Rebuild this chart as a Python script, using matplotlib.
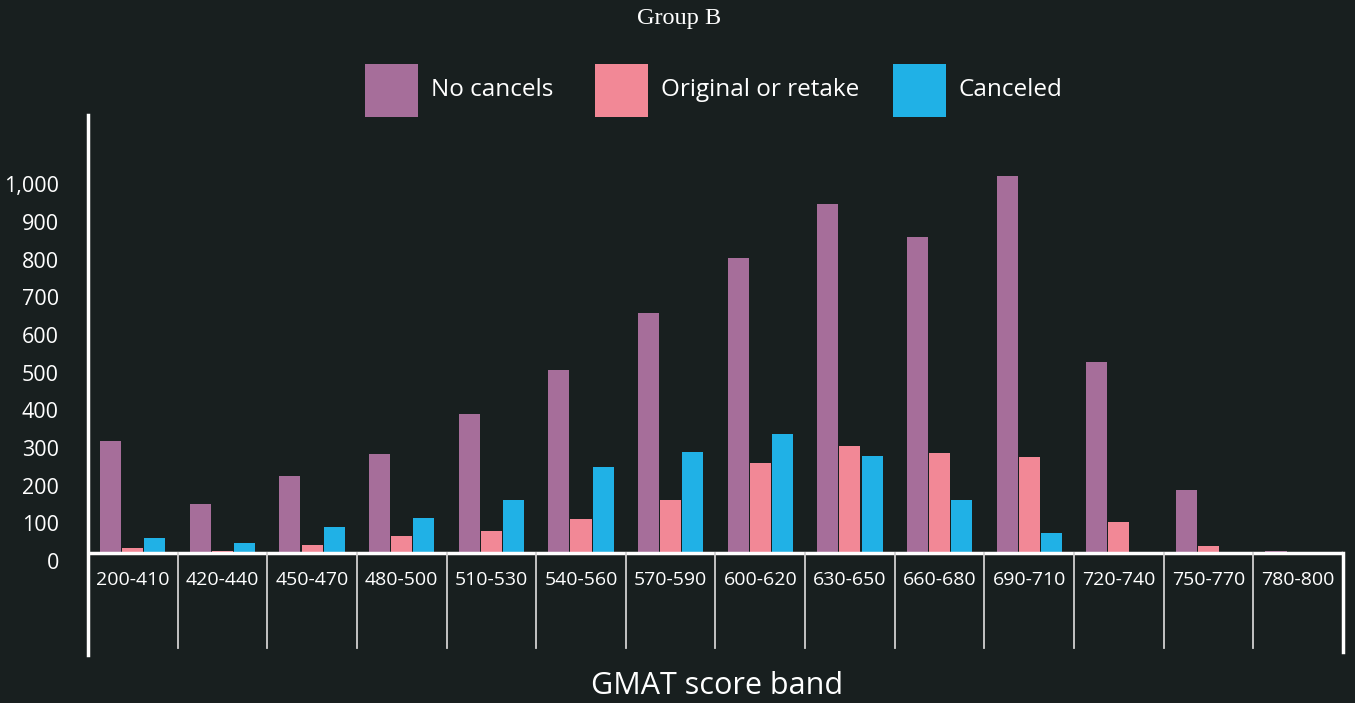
import numpy as np
import matplotlib
matplotlib.use("Agg")
import matplotlib.pyplot as plt
from matplotlib.patches import Rectangle

# values
bands = ["200-410", "420-440", "450-470", "480-500", "510-530", "540-560", "570-590",
         "600-620", "630-650", "660-680", "690-710", "720-740", "750-770", "780-800"]
no_cancels = [298, 131, 205, 263, 369, 486, 637, 783, 926, 838, 1000, 507, 168, 6]
original_or_retake = [14, 5, 22, 46, 59, 91, 141, 239, 284, 266, 255, 83, 19, 0]
canceled = [41, 27, 70, 94, 141, 229, 269, 316, 258, 141, 54, 0, 0, 0]
series_names = ["No cancels", "Original or retake", "Canceled"]
y_ticks = [0, 100, 200, 300, 400, 500, 600, 700, 800, 900, 1000]

BG = "#181f1f"
COLORS = ["#a66e9a", "#f28896", "#20b1e6"]
FONT = "Open Sans"

fig = plt.figure(figsize=(13.55, 7.03), dpi=100, facecolor=BG)
ax = fig.add_axes([0.0649, 0.0683, 0.9262, 0.7681], facecolor=BG)

x = np.arange(len(bands))
width = 0.235
step = 0.247
for i, (vals, col) in enumerate(zip([no_cancels, original_or_retake, canceled], COLORS)):
    ax.bar(x + (i - 1) * step, vals, width=width, color=col, linewidth=0, zorder=2)

ax.set_xlim(-0.5, len(bands) - 0.5)
ax.set_ylim(-270, 1162)

# baseline and category dividers
ax.axhline(0, color="white", lw=2.5, zorder=3)
for b in np.arange(0.5, len(bands) - 0.5):
    ax.plot([b, b], [0, -251], color="#d0d0d0", lw=1.3, zorder=3)
ax.plot([len(bands) - 0.5] * 2, [0, -261], color="white", lw=2.5, zorder=3, clip_on=False)

for s in ["top", "right", "bottom"]:
    ax.spines[s].set_visible(False)
ax.spines["left"].set_color("white")
ax.spines["left"].set_linewidth(2.5)

ax.set_xticks([])
ax.set_yticks(y_ticks)
ax.set_yticklabels([f"{v:,}" for v in y_ticks], fontsize=15.5, color="white", family=FONT)
for lab in ax.get_yticklabels():
    lab.set_va("top")
ax.tick_params(axis="y", length=0, pad=21)

for xi, lab in zip(x, bands):
    ax.text(xi, -71, lab, ha="center", va="center", color="white", fontsize=14, family=FONT)

fig.text(0.529, 0.024, "GMAT score band", ha="center", va="center",
         color="white", fontsize=22, family=FONT)
fig.text(0.5015, 0.973, "Group B", ha="center", va="center",
         color="white", fontsize=17.5, family="Liberation Serif")

# legend drawn as squares + labels
W, H = 1355, 703
leg_x = [365, 595, 893]
for lx, col, name in zip(leg_x, COLORS, series_names):
    fig.patches.append(Rectangle((lx / W, 1 - 117 / H), 53 / W, 53 / H,
                                 transform=fig.transFigure, color=col, lw=0))
    fig.text((lx + 66) / W, 1 - 90 / H, name, ha="left", va="center",
             color="white", fontsize=17.5, family=FONT)

fig.savefig("out.png", dpi=100, facecolor=BG)
